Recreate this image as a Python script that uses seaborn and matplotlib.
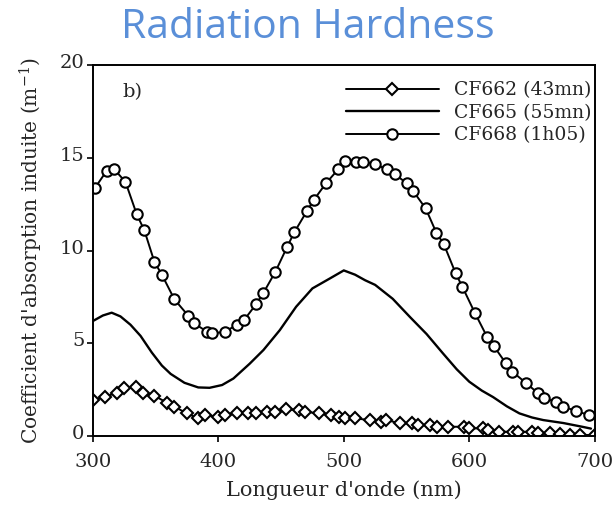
import matplotlib
matplotlib.use("Agg")
import matplotlib.pyplot as plt
import matplotlib.transforms as mtransforms
import seaborn as sns

# ---- data ----
x_cf662 = [300, 310, 319, 325, 334, 340, 349, 359, 365, 375, 384, 389, 400, 405, 415,
           424, 430, 439, 445, 454, 464, 469, 480, 490, 496, 501, 509, 521, 530, 534,
           545, 554, 559, 569, 574, 583, 596, 600, 611, 615, 624, 635, 639, 650, 655,
           664, 672, 680, 688, 700]
y_cf662 = [1.94, 2.12, 2.33, 2.57, 2.62, 2.33, 2.17, 1.8, 1.58, 1.22, 0.95, 1.13, 1.04, 1.13, 1.22,
           1.22, 1.22, 1.31, 1.31, 1.44, 1.4, 1.31, 1.22, 1.13, 1.04, 0.95, 0.95, 0.86, 0.77, 0.86,
           0.68, 0.68, 0.59, 0.59, 0.5, 0.5, 0.5, 0.41, 0.41, 0.32, 0.23, 0.23, 0.23, 0.23, 0.14,
           0.14, 0.1, 0.08, 0.06, 0.05]

x_cf665 = [300, 308, 315, 322, 330, 338, 347, 355, 362, 373, 384, 393, 403, 412, 425,
           436, 449, 462, 475, 489, 500, 509, 517, 525, 539, 553, 566, 579, 590,
           600, 610, 619, 630, 640, 650, 659, 675, 690, 697]
y_cf665 = [6.2, 6.5, 6.65, 6.45, 6.0, 5.4, 4.5, 3.8, 3.35, 2.87, 2.62, 2.6, 2.75, 3.1, 3.9,
           4.64, 5.71, 6.97, 7.96, 8.5, 8.93, 8.7, 8.4, 8.15, 7.4, 6.4, 5.5, 4.46, 3.6,
           2.93, 2.45, 2.1, 1.6, 1.22, 1.0, 0.86, 0.7, 0.5, 0.4]

x_cf668 = [301.6, 311, 317, 326, 335, 341, 349, 355, 365, 376, 381, 391, 395, 405, 414.5,
           420.5, 430, 435.7, 445.5, 455, 460.5, 470.8, 476, 485.7, 495.5, 500.8, 510, 515.4, 524.7, 534.5,
           540.6, 550.4, 555.2, 565.3, 573.8, 579.7, 589.2, 594.5, 604.4, 614.2, 619.6, 629.2, 634.4, 645, 655,
           659.4, 669.5, 674.8, 684.9, 695.2]
y_cf668 = [13.37, 14.3, 14.39, 13.7, 11.95, 11.1, 9.4, 8.7, 7.37, 6.49, 6.07, 5.62, 5.53, 5.62, 5.98,
           6.25, 7.1, 7.69, 8.86, 10.22, 10.98, 12.15, 12.72, 13.62, 14.38, 14.84, 14.75, 14.79, 14.66, 14.38,
           14.12, 13.62, 13.22, 12.27, 10.96, 10.35, 8.77, 8.05, 6.65, 5.35, 4.85, 3.92, 3.47, 2.87, 2.3,
           2.03, 1.85, 1.58, 1.36, 1.13]

labels = ["CF662 (43mn)", "CF665 (55mn)", "CF668 (1h05)"]
x_ticks = [300, 400, 500, 600, 700]
y_ticks = [0, 5, 10, 15, 20]

sns.set_style("ticks")
plt.rcParams['font.family'] = ['DejaVu Serif']
plt.rcParams['mathtext.fontset'] = 'dejavuserif'

fig = plt.figure(figsize=(6.15, 5.05), dpi=100)
ax = fig.add_axes([0.151, 0.1366, 0.816, 0.7344])

sns.lineplot(x=x_cf662, y=y_cf662, ax=ax, color='black', lw=1.4, marker='D',
             markersize=6.2, markerfacecolor='white', markeredgecolor='black',
             markeredgewidth=1.5, estimator=None, label=labels[0])
sns.lineplot(x=x_cf665, y=y_cf665, ax=ax, color='black', lw=1.7,
             estimator=None, label=labels[1])
sns.lineplot(x=x_cf668, y=y_cf668, ax=ax, color='black', lw=1.4, marker='o',
             markersize=7.5, markerfacecolor='white', markeredgecolor='black',
             markeredgewidth=1.5, estimator=None, label=labels[2])

ax.set_xlim(300, 700)
ax.set_ylim(0, 20)
ax.set_xticks(x_ticks)
ax.set_yticks(y_ticks)
ax.tick_params(axis='both', labelsize=14, direction='out', length=4, width=1.2, color='black')
ax.tick_params(axis='y', pad=2)
ax.tick_params(axis='x', pad=8)
for s in ax.spines.values():
    s.set_linewidth(1.4)
    s.set_color('black')

shift = mtransforms.ScaledTranslation(0, 4 / 100, fig.dpi_scale_trans)
for lab in ax.get_yticklabels():
    lab.set_transform(lab.get_transform() + shift)

ax.set_xlabel("Longueur d'onde (nm)", fontsize=15, labelpad=7)
ax.set_ylabel("Coefficient d'absorption induite (m$^{-1}$)", fontsize=14.5, labelpad=11)

ax.text(0.058, 0.927, "b)", transform=ax.transAxes, fontsize=14, va='center', ha='left')

leg = ax.legend(loc='upper right', bbox_to_anchor=(1.026, 1.0), frameon=False,
                fontsize=13.5, handlelength=5.0,
                handletextpad=0.8, labelspacing=0.25, borderaxespad=0.45)

fig.text(0.5, 1 - 38 / 505, "Radiation Hardness", ha='center', va='baseline', fontsize=29.5,
         color='#5a8fd8', family=['Open Sans', 'DejaVu Sans'])

fig.savefig("out.png", dpi=100)
